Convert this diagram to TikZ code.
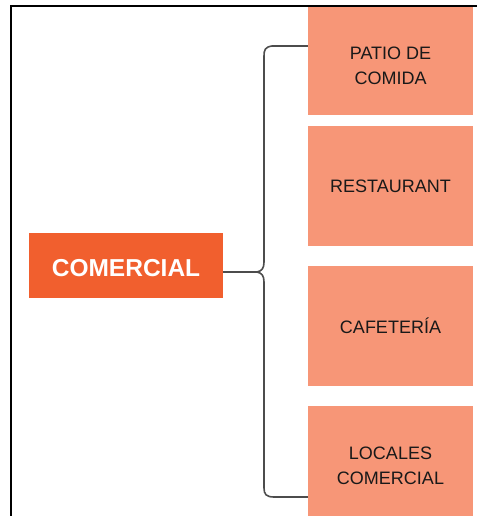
\documentclass[tikz,border=0pt]{standalone}
\usepackage{fontspec}
\setmainfont{Liberation Sans}
\usetikzlibrary{positioning}
\definecolor{mainorange}{HTML}{F15F2E}
\definecolor{boxsalmon}{HTML}{F79677}
\tikzset{
  mainbox/.style={fill=mainorange,text=white,font=\bfseries\fontsize{24.5}{28}\selectfont,
    minimum width=194pt,minimum height=65pt,inner sep=0pt},
  itembox/.style={fill=boxsalmon,text=black!90,font=\fontsize{18}{25}\selectfont,
    align=center,minimum width=165pt,minimum height=120pt,inner sep=0pt},
  brace/.style={draw=black!70,line width=1.6pt}
}

\begin{document}
\begin{tikzpicture}[x=1pt,y=-1pt]
\useasboundingbox (0,0) rectangle (477,516);

\node[mainbox] (comercial) at (126,265.5) {\rule{0pt}{23pt}COMERCIAL};

\node[itembox,minimum height=108pt] (patio) at (390.5,61) {\rule{0pt}{22pt}PATIO DE\\COMIDA};
\node[itembox] (restaurant) at (390.5,186) {RESTAURANT};
\node[itembox] (cafeteria) at (390.5,326) {CAFETERÍA};
\node[itembox] (locales) at (390.5,466) {LOCALES\\COMERCIAL};

% brace
\coordinate (tip) at (257,272);
\coordinate (bracetop) at (patio.west |- 0,46);
\coordinate (bracebot) at (locales.west |- 0,497);
\draw[brace] (comercial.east |- tip) -- (tip);
\draw[brace] (bracetop) -- (272,46) .. controls (265,47) and (264,50) .. (264,56)
  -- (264,262) .. controls (264,268) and (262,271) .. (tip)
  .. controls (262,273) and (264,276) .. (264,282)
  -- (264,488) .. controls (264,494) and (266,497) .. (274,497) -- (bracebot);

% frame
\draw[line width=2pt] (11,516) -- (11,6) -- (477,6);
\end{tikzpicture}
\end{document}
